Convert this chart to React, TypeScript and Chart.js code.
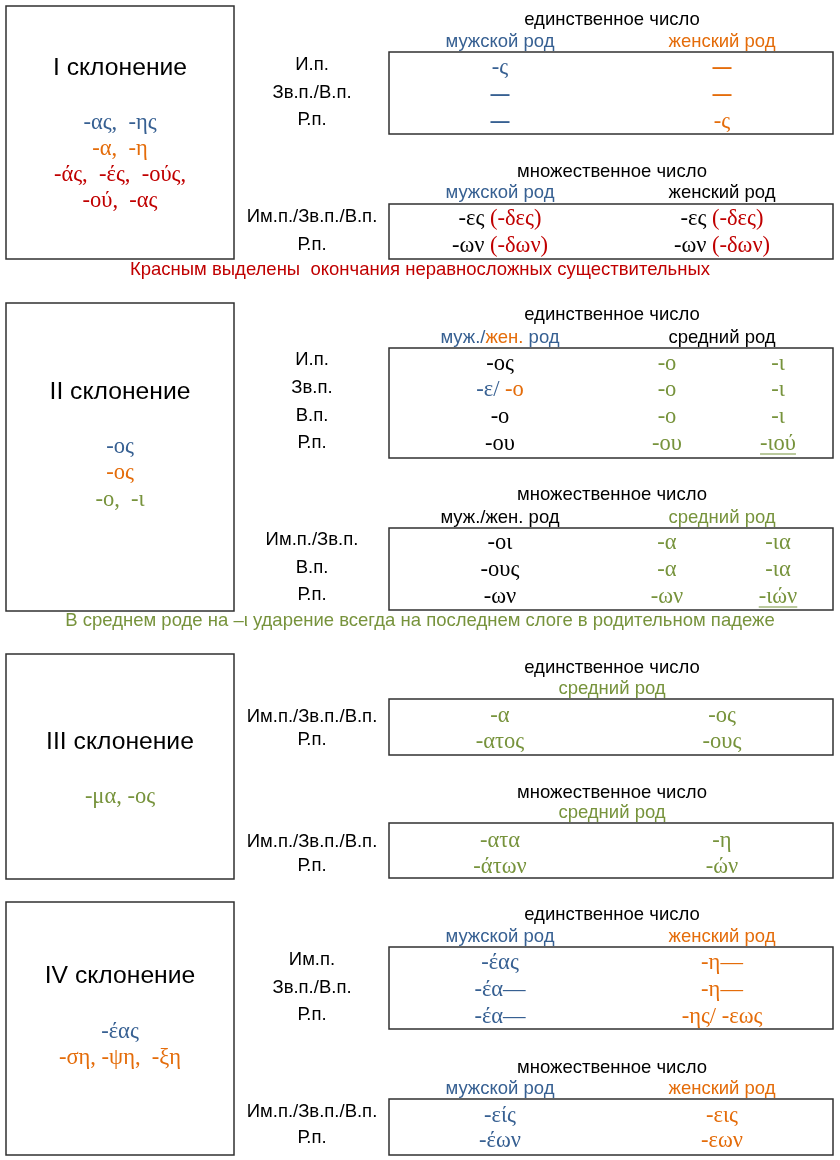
import React, { useEffect, useRef } from "react";
import { Chart, registerables } from "chart.js";

Chart.register(...registerables);

// ---------- DATA ----------
const declensionTitles = ["I склонение", "II склонение", "III склонение", "IV склонение"];
const numberHeaders = ["единственное число", "множественное число"];
const genderMascFem = ["мужской род", "женский род"];
const genderMFParts = ["муж./", "жен.", " род"];
const genderNeuter = "средний род";

// I declension
const s1Stems = ["-ας,  -ης", "-α,  -η", "-άς,  -ές,  -ούς,", "-ού,  -ας"];
const s1SingCases = ["И.п.", "Зв.п./В.п.", "Р.п."];
const s1SingMasc = ["-ς", "—", "—"];
const s1SingFem = ["—", "—", "-ς"];
const s1PlurCases = ["Им.п./Зв.п./В.п.", "Р.п."];
const s1PlurEndings = ["-ες", "-ων"];
const s1PlurImparisyllabic = ["(-δες)", "(-δων)"];
const s1Note = "Красным выделены  окончания неравносложных существительных";

// II declension
const s2Stems = ["-ος", "-ος", "-ο,  -ι"];
const s2SingCases = ["И.п.", "Зв.п.", "В.п.", "Р.п."];
const s2SingMF = [["-ος"], ["-ε/ ", "-ο"], ["-ο"], ["-ου"]];
const s2SingNeutO = ["-ο", "-ο", "-ο", "-ου"];
const s2SingNeutI = ["-ι", "-ι", "-ι", "-ιού"];
const s2PlurCases = ["Им.п./Зв.п.", "В.п.", "Р.п."];
const s2PlurMF = ["-οι", "-ους", "-ων"];
const s2PlurNeutO = ["-α", "-α", "-ων"];
const s2PlurNeutI = ["-ια", "-ια", "-ιών"];
const s2Note = "В среднем роде на –ι ударение всегда на последнем слоге в родительном падеже";

// III declension
const s3Stems = ["-μα, -ος"];
const s3Cases = ["Им.п./Зв.п./В.п.", "Р.п."];
const s3SingMa = ["-α", "-ατος"];
const s3SingOs = ["-ος", "-ους"];
const s3PlurMa = ["-ατα", "-άτων"];
const s3PlurOs = ["-η", "-ών"];

// IV declension
const s4Stems = ["-έας", "-ση, -ψη,  -ξη"];
const s4SingCases = ["Им.п.", "Зв.п./В.п.", "Р.п."];
const s4SingMasc = ["-έας", "-έα—", "-έα—"];
const s4SingFem = ["-η—", "-η—", "-ης/ -εως"];
const s4PlurCases = ["Им.п./Зв.п./В.п.", "Р.п."];
const s4PlurMasc = ["-είς", "-έων"];
const s4PlurFem = ["-εις", "-εων"];

// ---------- STYLE ----------
const BLUE = "#376092";
const ORANGE = "#E46C0A";
const RED = "#C00000";
const GREEN = "#77933C";
const BLACK = "#000000";
const BORDER = "#303030";
const SANS = '"Liberation Sans", Arial, sans-serif';
const SERIF = '"Liberation Serif", "Times New Roman", serif';
const F_TITLE = `24.7px ${SANS}`;
const F_LABEL = `18.5px ${SANS}`;
const F_DASH = `bold 19px ${SANS}`;
const F_GREEK = `22.5px ${SERIF}`;
const F_STEM = `22.5px ${SERIF}`;

type Seg = [string, string];
type Item = { x: number; y: number; segs: Seg[]; font: string; underline?: boolean };
type Box = { x0: number; y0: number; x1: number; y1: number };

// ---------- LAYOUT ----------
const LBOX_X = [6, 234];
const TBOX_X = [389, 833];
const TITLE_X = 120;
const LABEL_X = 312;
const COL2 = [500, 722];
const COL3 = [500, 667, 778];
const HEAD_X = 612;

function buildScene() {
  const items: Item[] = [];
  const boxes: Box[] = [];
  const add = (x: number, y: number, segs: Seg[], font: string, underline = false) =>
    items.push({ x, y, segs, font, underline });
  const one = (x: number, y: number, t: string, c: string, font: string, u = false) =>
    add(x, y, [[t, c]], font, u);
  const cell = (x: number, y: number, t: string, c: string) =>
    one(x, y, t, c, t === "—" ? F_DASH : F_GREEK);
  const lbox = (y0: number, y1: number) => boxes.push({ x0: LBOX_X[0], y0, x1: LBOX_X[1], y1 });
  const tbox = (y0: number, y1: number) => boxes.push({ x0: TBOX_X[0], y0, x1: TBOX_X[1], y1 });
  const stems = (y0: number, pitch: number, list: string[], colors: string[]) =>
    list.forEach((s, i) => one(TITLE_X, y0 + i * pitch, s, colors[i], F_STEM));
  const labels = (ys: number[], list: string[]) => list.forEach((s, i) => one(LABEL_X, ys[i], s, BLACK, F_LABEL));

  // ===== I =====
  lbox(6, 259);
  one(TITLE_X, 68, declensionTitles[0], BLACK, F_TITLE);
  stems(123, 26, s1Stems, [BLUE, ORANGE, RED, RED]);
  {
    const rows = [68, 95, 122];
    one(HEAD_X, 20, numberHeaders[0], BLACK, F_LABEL);
    one(COL2[0], 42, genderMascFem[0], BLUE, F_LABEL);
    one(COL2[1], 42, genderMascFem[1], ORANGE, F_LABEL);
    tbox(52, 134);
    labels([65, 93, 120], s1SingCases);
    s1SingMasc.forEach((s, i) => cell(COL2[0], rows[i], s, BLUE));
    s1SingFem.forEach((s, i) => cell(COL2[1], rows[i], s, ORANGE));
  }
  {
    const rows = [219, 246];
    one(HEAD_X, 172, numberHeaders[1], BLACK, F_LABEL);
    one(COL2[0], 193, genderMascFem[0], BLUE, F_LABEL);
    one(COL2[1], 193, genderMascFem[1], BLACK, F_LABEL);
    tbox(204, 259);
    labels([217, 245], s1PlurCases);
    s1PlurEndings.forEach((s, i) => {
      COL2.forEach((cx) => add(cx, rows[i], [[s + " ", BLACK], [s1PlurImparisyllabic[i], RED]], F_GREEK));
    });
  }
  one(420, 270, s1Note, RED, F_LABEL);

  // ===== II =====
  lbox(303, 611);
  one(TITLE_X, 392, declensionTitles[1], BLACK, F_TITLE);
  stems(447, 26.5, s2Stems, [BLUE, ORANGE, GREEN]);
  {
    const rows = [364, 390, 417, 444];
    one(HEAD_X, 315, numberHeaders[0], BLACK, F_LABEL);
    add(COL3[0], 338, genderMFParts.map((p, i) => [p, [BLUE, ORANGE, BLUE][i]] as Seg), F_LABEL);
    one(COL2[1], 338, genderNeuter, BLACK, F_LABEL);
    tbox(348, 458);
    labels([360, 388, 416, 443], s2SingCases);
    s2SingMF.forEach((parts, i) =>
      add(COL3[0], rows[i], parts.map((p, j) => [p, parts.length > 1 ? [BLUE, ORANGE][j] : BLACK] as Seg), F_GREEK)
    );
    s2SingNeutO.forEach((s, i) => one(COL3[1], rows[i], s, GREEN, F_GREEK));
    s2SingNeutI.forEach((s, i) => one(COL3[2], rows[i], s, GREEN, F_GREEK, i === 3));
  }
  {
    const rows = [543, 570, 597];
    one(HEAD_X, 495, numberHeaders[1], BLACK, F_LABEL);
    add(COL3[0], 518, genderMFParts.map((p) => [p, BLACK] as Seg), F_LABEL);
    one(COL2[1], 518, genderNeuter, GREEN, F_LABEL);
    tbox(528, 610);
    labels([540, 568, 595], s2PlurCases);
    s2PlurMF.forEach((s, i) => one(COL3[0], rows[i], s, BLACK, F_GREEK));
    s2PlurNeutO.forEach((s, i) => one(COL3[1], rows[i], s, GREEN, F_GREEK));
    s2PlurNeutI.forEach((s, i) => one(COL3[2], rows[i], s, GREEN, F_GREEK, i === 2));
  }
  one(420, 621, s2Note, GREEN, F_LABEL);

  // ===== III =====
  lbox(654, 879);
  one(TITLE_X, 742, declensionTitles[2], BLACK, F_TITLE);
  stems(797, 26, s3Stems, [GREEN]);
  {
    const rows = [716, 742];
    one(HEAD_X, 668, numberHeaders[0], BLACK, F_LABEL);
    one(HEAD_X, 689, genderNeuter, GREEN, F_LABEL);
    tbox(699, 755);
    labels([717, 740], s3Cases);
    s3SingMa.forEach((s, i) => one(COL2[0], rows[i], s, GREEN, F_GREEK));
    s3SingOs.forEach((s, i) => one(COL2[1], rows[i], s, GREEN, F_GREEK));
  }
  {
    const rows = [841, 867];
    one(HEAD_X, 793, numberHeaders[1], BLACK, F_LABEL);
    one(HEAD_X, 813, genderNeuter, GREEN, F_LABEL);
    tbox(823, 878);
    labels([842, 866], s3Cases);
    s3PlurMa.forEach((s, i) => one(COL2[0], rows[i], s, GREEN, F_GREEK));
    s3PlurOs.forEach((s, i) => one(COL2[1], rows[i], s, GREEN, F_GREEK));
  }

  // ===== IV =====
  lbox(902, 1155);
  one(TITLE_X, 976, declensionTitles[3], BLACK, F_TITLE);
  stems(1032, 26, s4Stems, [BLUE, ORANGE]);
  {
    const rows = [963, 990, 1017];
    one(HEAD_X, 915, numberHeaders[0], BLACK, F_LABEL);
    one(COL2[0], 937, genderMascFem[0], BLUE, F_LABEL);
    one(COL2[1], 937, genderMascFem[1], ORANGE, F_LABEL);
    tbox(947, 1029);
    labels([960, 988, 1015], s4SingCases);
    s4SingMasc.forEach((s, i) => one(COL2[0], rows[i], s, BLUE, F_GREEK));
    s4SingFem.forEach((s, i) => one(COL2[1], rows[i], s, ORANGE, F_GREEK));
  }
  {
    const rows = [1116, 1141];
    one(HEAD_X, 1068, numberHeaders[1], BLACK, F_LABEL);
    one(COL2[0], 1089, genderMascFem[0], BLUE, F_LABEL);
    one(COL2[1], 1089, genderMascFem[1], ORANGE, F_LABEL);
    tbox(1099, 1155);
    labels([1112, 1138], s4PlurCases);
    s4PlurMasc.forEach((s, i) => one(COL2[0], rows[i], s, BLUE, F_GREEK));
    s4PlurFem.forEach((s, i) => one(COL2[1], rows[i], s, ORANGE, F_GREEK));
  }
  return { items, boxes };
}

const tablePlugin = {
  id: "declensionTable",
  beforeDraw(chart: any) {
    const ctx = chart.ctx as CanvasRenderingContext2D;
    ctx.save();
    ctx.fillStyle = "#ffffff";
    ctx.fillRect(0, 0, chart.width, chart.height);
    ctx.restore();
  },
  afterDraw(chart: any) {
    const ctx = chart.ctx as CanvasRenderingContext2D;
    const sx = (v: number) => chart.scales.x.getPixelForValue(v);
    const sy = (v: number) => chart.scales.y.getPixelForValue(v);
    const { items, boxes } = buildScene();
    ctx.save();
    ctx.lineWidth = 1.5;
    ctx.strokeStyle = BORDER;
    boxes.forEach((b) => {
      const x0 = sx(b.x0), x1 = sx(b.x1), y0 = sy(b.y0), y1 = sy(b.y1);
      ctx.strokeRect(x0, y0, x1 - x0, y1 - y0);
    });
    ctx.textBaseline = "middle";
    ctx.textAlign = "left";
    items.forEach((it) => {
      ctx.font = it.font;
      const widths = it.segs.map((s) => ctx.measureText(s[0]).width);
      const total = widths.reduce((a, b) => a + b, 0);
      let x = sx(it.x) - total / 2;
      const y = sy(it.y);
      const start = x;
      it.segs.forEach((s, i) => {
        ctx.fillStyle = s[1];
        ctx.fillText(s[0], x, y);
        x += widths[i];
      });
      if (it.underline) {
        ctx.strokeStyle = it.segs[0][1];
        ctx.lineWidth = 1.2;
        ctx.beginPath();
        ctx.moveTo(start, y + 10);
        ctx.lineTo(start + total, y + 10);
        ctx.stroke();
      }
    });
    ctx.restore();
  },
};

export default function App() {
  const ref = useRef<HTMLCanvasElement | null>(null);
  useEffect(() => {
    if (!ref.current) return;
    const chart = new Chart(ref.current, {
      type: "scatter",
      data: { datasets: [{ data: [], pointRadius: 0 }] },
      options: {
        responsive: false,
        animation: false,
        events: [],
        layout: { padding: 0 },
        plugins: { legend: { display: false }, tooltip: { enabled: false } },
        scales: {
          x: { type: "linear", min: 0, max: 840, display: false },
          y: { type: "linear", min: 0, max: 1160, reverse: true, display: false },
        },
      },
      plugins: [tablePlugin],
    });
    return () => chart.destroy();
  }, []);
  return (
    <div style={{ position: "absolute", left: 0, top: 0, width: 840, height: 1160, background: "#fff" }}>
      <canvas ref={ref} width={840} height={1160} style={{ display: "block" }} />
    </div>
  );
}
